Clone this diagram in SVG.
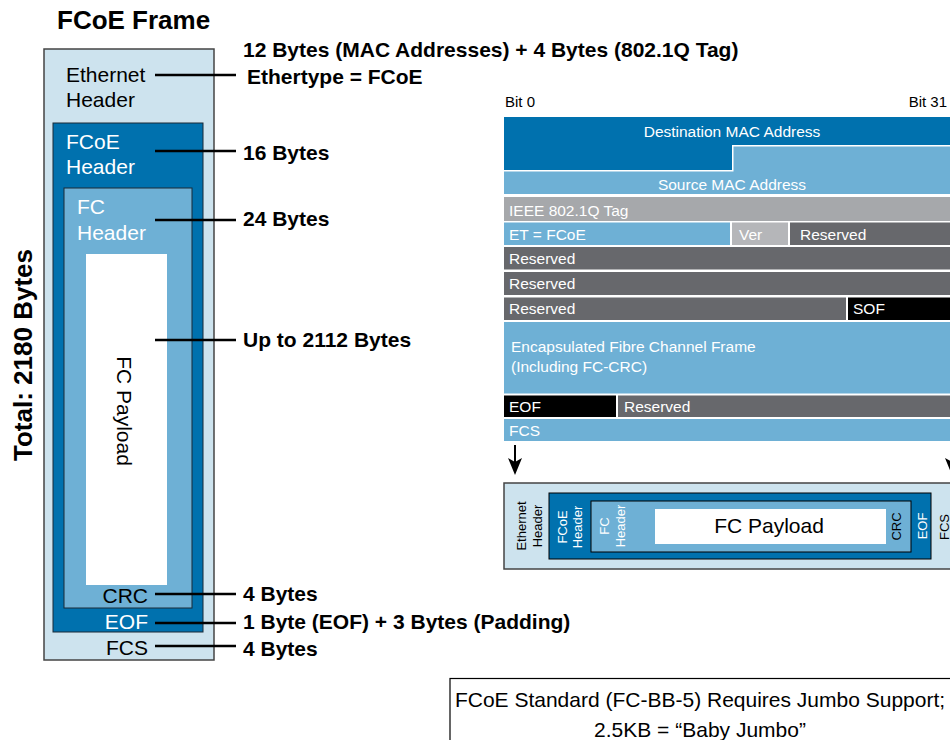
<svg xmlns="http://www.w3.org/2000/svg" width="950" height="740" viewBox="0 0 950 740">
<style>
text{font-family:"Liberation Sans",Arial,Helvetica,sans-serif}
.b{font-weight:bold;font-size:21px;fill:#000}
.lbl{font-size:21px}
.w{fill:#fff}
.k{fill:#000}
.t{font-size:15.5px;fill:#fff}
.s{font-size:13px}
.lead{stroke:#000;stroke-width:2.5;fill:none}
.lt{fill:#cde3ee}
.db{fill:#0071ae}
.mb{fill:#6eb0d5}
.gr{fill:#67686c}
</style>
<rect width="950" height="740" fill="#fff"/>
<text x="57" y="29" class="b" style="font-size:26px">FCoE Frame</text>
<text class="b" style="font-size:26px" transform="translate(32,355) rotate(-90)" text-anchor="middle">Total: 2180 Bytes</text>

<g id="left-frame">
<rect x="44" y="49" width="170" height="611" class="lt" stroke="#444" stroke-width="1.5"/>
<text x="66" y="82" class="lbl k">Ethernet</text>
<text x="66" y="107" class="lbl k">Header</text>
<text x="148" y="655" class="lbl k" text-anchor="end">FCS</text>
</g>
<g id="left-fcoe">
<rect x="53" y="123" width="150" height="509" class="db" stroke="#1b2b36" stroke-width="1"/>
<text x="66" y="149" class="lbl w">FCoE</text>
<text x="66" y="174" class="lbl w">Header</text>
<text x="148" y="629" class="lbl w" text-anchor="end">EOF</text>
</g>
<g id="left-fc">
<rect x="64" y="188" width="128" height="420" class="mb" stroke="#1b2b36" stroke-width="1"/>
<text x="77" y="214" class="lbl w">FC</text>
<text x="77" y="240" class="lbl w">Header</text>
<text x="148" y="603" class="lbl k" text-anchor="end">CRC</text>
</g>
<g id="left-payload">
<rect x="86" y="254" width="81" height="331" fill="#fff"/>
<text class="lbl k" transform="translate(117,411) rotate(90)" text-anchor="middle">FC Payload</text>
</g>

<g id="labels">
<text x="243" y="57" class="b">12 Bytes (MAC Addresses) + 4 Bytes (802.1Q Tag)</text>
<text x="247" y="84" class="b">Ethertype = FCoE</text>
<text x="243" y="160" class="b">16 Bytes</text>
<text x="243" y="226" class="b">24 Bytes</text>
<text x="243" y="347" class="b">Up to 2112 Bytes</text>
<text x="243" y="601" class="b">4 Bytes</text>
<text x="243" y="629" class="b">1 Byte (EOF) + 3 Bytes (Padding)</text>
<text x="243" y="656" class="b">4 Bytes</text>
</g>

<g id="connectors">
<line x1="155" y1="75" x2="236" y2="75" class="lead"/>
<line x1="155" y1="151" x2="236" y2="151" class="lead"/>
<line x1="155" y1="220" x2="236" y2="220" class="lead"/>
<line x1="155" y1="340" x2="236" y2="340" class="lead"/>
<line x1="155" y1="594" x2="236" y2="594" class="lead"/>
<line x1="155" y1="623" x2="236" y2="623" class="lead"/>
<line x1="155" y1="646" x2="236" y2="646" class="lead"/>
<line x1="515" y1="445" x2="515" y2="464" stroke="#000" stroke-width="2"/>
<path d="M508,458 L515,475 L522,458 L515,462 Z" fill="#000"/>
<line x1="952" y1="445" x2="952" y2="464" stroke="#000" stroke-width="2"/>
<path d="M945,458 L952,475 L959,458 L952,462 Z" fill="#000"/>
</g>

<g id="header-table">
<text x="505" y="107" font-size="15" fill="#000">Bit 0</text>
<text x="947" y="107" font-size="15" fill="#000" text-anchor="end">Bit 31</text>
<g id="row-dmac">
<path d="M504,117 H950 V145 H732 V170 H504 Z" class="db"/>
<text x="732" y="137" class="t" text-anchor="middle">Destination MAC Address</text>
</g>
<g id="row-smac">
<path d="M733.5,146.5 H950 V194 H504 V171.5 H733.5 Z" class="mb"/>
<text x="732" y="190" class="t" text-anchor="middle">Source MAC Address</text>
</g>
<g id="row-tag">
<rect x="504" y="197" width="446" height="24" fill="#a6a8ab"/>
<text x="509" y="215.5" class="t">IEEE 802.1Q Tag</text>
</g>
<g id="row-et">
<rect x="504" y="222.5" width="226" height="22.5" class="mb"/>
<rect x="732" y="222.5" width="56" height="22.5" fill="#b5b6b9"/>
<rect x="790" y="222.5" width="160" height="22.5" class="gr"/>
<text x="509" y="240" class="t">ET = FCoE</text>
<text x="739" y="240" class="t">Ver</text>
<text x="800" y="240" class="t">Reserved</text>
</g>
<g id="row-res1">
<rect x="504" y="247" width="446" height="22.5" class="gr"/>
<text x="509" y="263.5" class="t">Reserved</text>
</g>
<g id="row-res2">
<rect x="504" y="272" width="446" height="23" class="gr"/>
<text x="509" y="289" class="t">Reserved</text>
</g>
<g id="row-res3">
<rect x="504" y="297.5" width="342" height="22.5" class="gr"/>
<rect x="848" y="297.5" width="102" height="22.5" fill="#000"/>
<text x="509" y="314" class="t">Reserved</text>
<text x="853" y="314" class="t">SOF</text>
</g>
<g id="row-encap">
<rect x="504" y="322" width="446" height="71.5" class="mb"/>
<text x="511" y="352" class="t">Encapsulated Fibre Channel Frame</text>
<text x="511" y="372" class="t">(Including FC-CRC)</text>
</g>
<g id="row-eof">
<rect x="504" y="395.5" width="112" height="21.5" fill="#000"/>
<rect x="618" y="395.5" width="332" height="21.5" class="gr"/>
<text x="509" y="411.5" class="t">EOF</text>
<text x="624" y="411.5" class="t">Reserved</text>
</g>
<g id="row-fcs">
<rect x="504" y="419" width="446" height="22" class="mb"/>
<text x="509" y="436" class="t">FCS</text>
</g>
</g>

<g id="bottom-frame">
<rect x="504" y="483" width="460" height="86" class="lt" stroke="#444" stroke-width="1.5"/>
<text class="s k" text-anchor="middle" transform="translate(526,526) rotate(-90)">Ethernet</text>
<text class="s k" text-anchor="middle" transform="translate(541.5,526) rotate(-90)">Header</text>
<text class="s k" text-anchor="middle" transform="translate(948.5,527) rotate(-90)">FCS</text>
</g>
<g id="bottom-fcoe">
<rect x="549" y="493" width="382" height="66" class="db" stroke="#000" stroke-width="1"/>
<text class="s w" text-anchor="middle" transform="translate(566.5,527) rotate(-90)">FCoE</text>
<text class="s w" text-anchor="middle" transform="translate(582,527) rotate(-90)">Header</text>
<text class="s w" text-anchor="middle" transform="translate(927,526) rotate(-90)">EOF</text>
</g>
<g id="bottom-fc">
<rect x="591" y="501" width="320" height="51" class="mb" stroke="#000" stroke-width="1"/>
<text class="s w" text-anchor="middle" transform="translate(608.5,526) rotate(-90)">FC</text>
<text class="s w" text-anchor="middle" transform="translate(625,526) rotate(-90)">Header</text>
<text class="s k" text-anchor="middle" transform="translate(901,526.5) rotate(-90)">CRC</text>
</g>
<g id="bottom-payload">
<rect x="655" y="509" width="231" height="35" fill="#fff"/>
<text x="769" y="533" class="lbl k" text-anchor="middle">FC Payload</text>
</g>

<g id="note">
<rect x="450" y="678.5" width="520" height="80" fill="#fff" stroke="#000" stroke-width="1.2"/>
<text x="700" y="707" class="lbl k" text-anchor="middle">FCoE Standard (FC-BB-5) Requires Jumbo Support;</text>
<text x="700" y="737" class="lbl k" text-anchor="middle">2.5KB = “Baby Jumbo”</text>
</g>
</svg>
